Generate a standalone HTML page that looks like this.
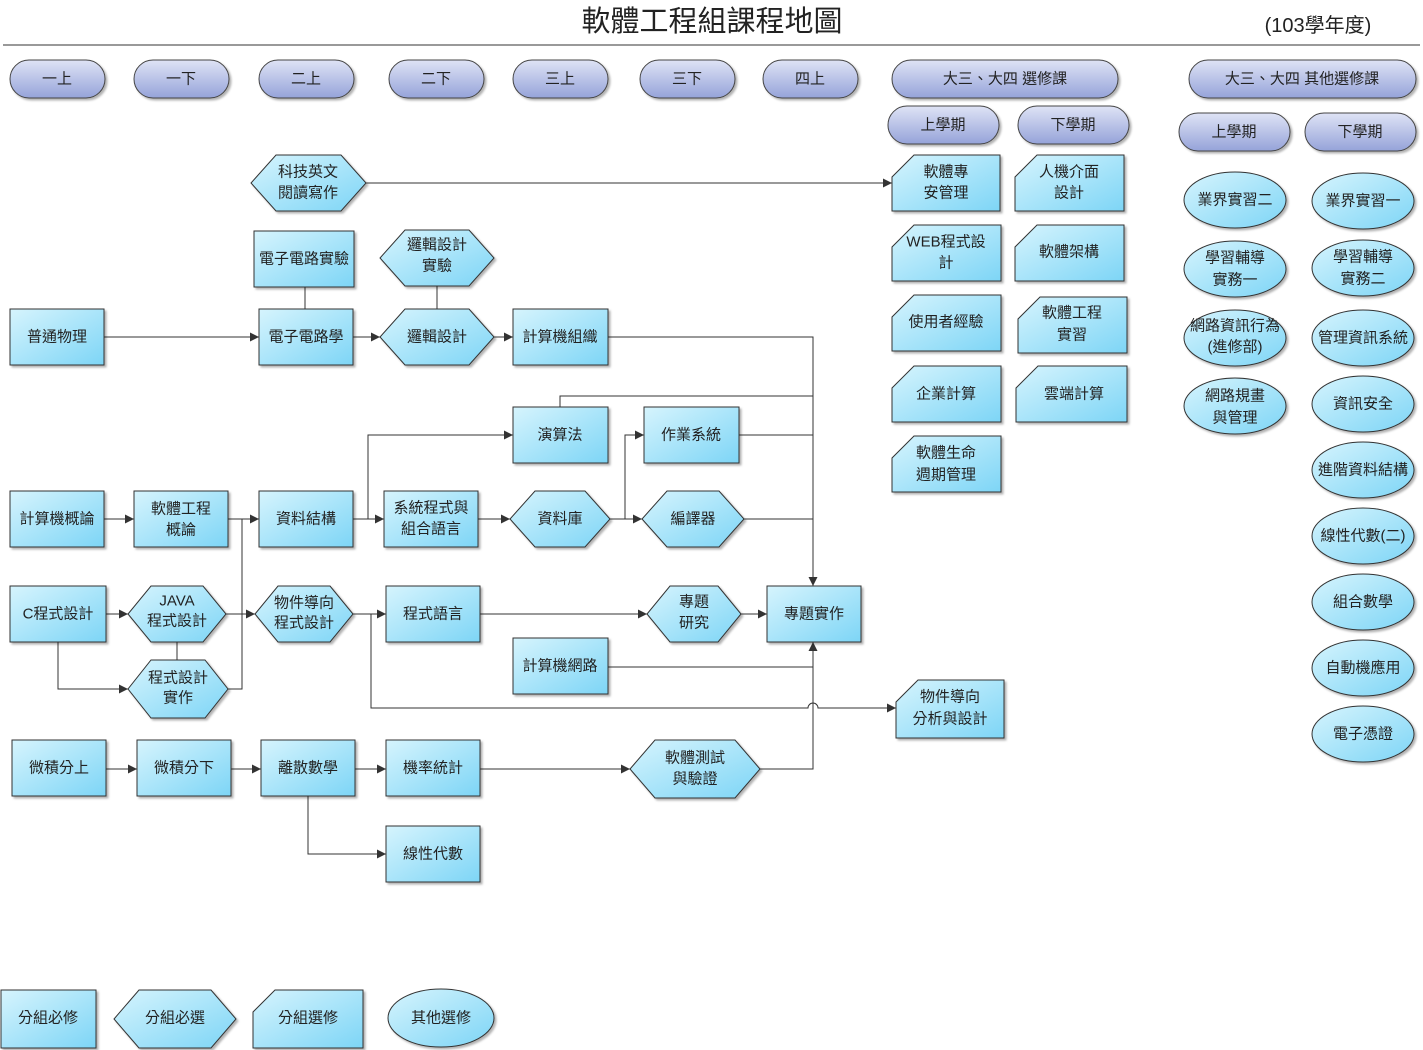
<!DOCTYPE html>
<html><head><meta charset="utf-8">
<style>
html,body{margin:0;padding:0;background:#fff;}
svg{display:block;}
text{font-family:"Liberation Sans","Noto Sans CJK TC",sans-serif;font-size:15px;fill:#222;text-anchor:middle;dominant-baseline:central;}
.n{fill:url(#g);stroke:#333;stroke-width:1;filter:url(#sh);}
.p{fill:url(#gp);stroke:#444;stroke-width:1;filter:url(#sh);}
.l{fill:none;stroke:#333;stroke-width:1;}
.a{fill:none;stroke:#333;stroke-width:1;marker-end:url(#ar);}
</style></head><body>
<svg width="1423" height="1050" viewBox="0 0 1423 1050" xmlns="http://www.w3.org/2000/svg">
<defs>
<linearGradient id="g" x1="0" y1="0" x2="1" y2="1"><stop offset="0" stop-color="#d6f4fd"/><stop offset="1" stop-color="#7dd5f6"/></linearGradient>
<linearGradient id="gp" x1="0" y1="0" x2="0" y2="1"><stop offset="0" stop-color="#dfe3f5"/><stop offset="1" stop-color="#95a3d9"/></linearGradient>
<filter id="sh" x="-10%" y="-10%" width="130%" height="130%"><feDropShadow dx="2" dy="2" stdDeviation="1" flood-color="#000" flood-opacity="0.3"/></filter>
<marker id="ar" viewBox="0 0 10 10" refX="10" refY="5" markerWidth="9" markerHeight="9" markerUnits="userSpaceOnUse" orient="auto"><path d="M0,0 L10,5 L0,10 z" fill="#333"/></marker>
</defs>

<text x="712" y="22" style="font-size:29px">軟體工程組課程地圖</text>
<text x="1318" y="26" style="font-size:20px">(103學年度)</text>
<line x1="3" y1="45" x2="1420" y2="45" stroke="#333"/>

<!-- header pills -->
<g>
<rect class="p" x="10" y="60" width="95" height="38" rx="19"/><text x="57" y="79">一上</text>
<rect class="p" x="134" y="60" width="95" height="38" rx="19"/><text x="181" y="79">一下</text>
<rect class="p" x="259" y="60" width="95" height="38" rx="19"/><text x="306" y="79">二上</text>
<rect class="p" x="389" y="60" width="95" height="38" rx="19"/><text x="436" y="79">二下</text>
<rect class="p" x="513" y="60" width="95" height="38" rx="19"/><text x="560" y="79">三上</text>
<rect class="p" x="640" y="60" width="95" height="38" rx="19"/><text x="687" y="79">三下</text>
<rect class="p" x="763" y="60" width="95" height="38" rx="19"/><text x="810" y="79">四上</text>
<rect class="p" x="892" y="60" width="226" height="38" rx="19"/><text x="1005" y="79">大三、大四 選修課</text>
<rect class="p" x="888" y="106" width="111" height="38" rx="19"/><text x="943" y="125">上學期</text>
<rect class="p" x="1018" y="106" width="111" height="38" rx="19"/><text x="1073" y="125">下學期</text>
<rect class="p" x="1189" y="60" width="227" height="38" rx="19"/><text x="1302" y="79">大三、大四 其他選修課</text>
<rect class="p" x="1179" y="113" width="111" height="38" rx="19"/><text x="1234" y="132">上學期</text>
<rect class="p" x="1305" y="113" width="111" height="38" rx="19"/><text x="1360" y="132">下學期</text>
</g>

<!-- connectors -->
<g>
<line class="a" x1="366" y1="183" x2="892" y2="183"/>
<line class="l" x1="305" y1="287" x2="305" y2="309"/>
<line class="l" x1="437" y1="286" x2="437" y2="309"/>
<line class="a" x1="104" y1="337" x2="259" y2="337"/>
<line class="a" x1="353" y1="337" x2="380" y2="337"/>
<line class="a" x1="494" y1="337" x2="513" y2="337"/>
<polyline class="a" points="608,337 813,337 813,586"/>
<polyline class="l" points="560,407 560,396 813,396"/>
<line class="l" x1="739" y1="435" x2="813" y2="435"/>
<line class="l" x1="744" y1="519" x2="813" y2="519"/>
<line class="a" x1="104" y1="519" x2="134" y2="519"/>
<line class="a" x1="228" y1="519" x2="259" y2="519"/>
<line class="a" x1="353" y1="519" x2="384" y2="519"/>
<polyline class="a" points="368,519 368,435 513,435"/>
<line class="a" x1="478" y1="519" x2="510" y2="519"/>
<line class="a" x1="610" y1="519" x2="642" y2="519"/>
<polyline class="a" points="625,519 625,435 644,435"/>
<line class="a" x1="106" y1="614" x2="128" y2="614"/>
<polyline class="a" points="58,642 58,689 128,689"/>
<line class="l" x1="177" y1="642" x2="177" y2="660"/>
<line class="a" x1="226" y1="614" x2="255" y2="614"/>
<polyline class="l" points="228,689 242,689 242,519"/>
<line class="a" x1="353" y1="614" x2="386" y2="614"/>
<path class="a" d="M371,614 L371,708 L808,708 A5,5 0 0 1 818,708 L896,708"/>
<line class="a" x1="480" y1="614" x2="647" y2="614"/>
<line class="a" x1="741" y1="614" x2="767" y2="614"/>
<polyline class="a" points="608,667 813,667 813,642"/>
<polyline class="l" points="760,769 813,769 813,667"/>
<line class="a" x1="106" y1="769" x2="137" y2="769"/>
<line class="a" x1="231" y1="769" x2="261" y2="769"/>
<line class="a" x1="355" y1="769" x2="386" y2="769"/>
<line class="a" x1="480" y1="769" x2="630" y2="769"/>
<polyline class="a" points="308,796 308,854 386,854"/>
</g>

<!-- rect nodes -->
<g>
<rect class="n" x="10" y="309" width="94" height="56"/><text x="57" y="337">普通物理</text>
<rect class="n" x="254" y="231" width="100" height="56"/><text x="304" y="259">電子電路實驗</text>
<rect class="n" x="259" y="309" width="94" height="56"/><text x="306" y="337">電子電路學</text>
<rect class="n" x="513" y="309" width="95" height="56"/><text x="560" y="337">計算機組織</text>
<rect class="n" x="513" y="407" width="95" height="56"/><text x="560" y="435">演算法</text>
<rect class="n" x="644" y="407" width="95" height="56"/><text x="691" y="435">作業系統</text>
<rect class="n" x="10" y="491" width="94" height="56"/><text x="57" y="519">計算機概論</text>
<rect class="n" x="134" y="491" width="94" height="56"/><text x="181" y="509">軟體工程</text><text x="181" y="530">概論</text>
<rect class="n" x="259" y="491" width="94" height="56"/><text x="306" y="519">資料結構</text>
<rect class="n" x="384" y="491" width="94" height="56"/><text x="431" y="508">系統程式與</text><text x="431" y="529">組合語言</text>
<rect class="n" x="10" y="586" width="96" height="56"/><text x="58" y="614">C程式設計</text>
<rect class="n" x="386" y="586" width="94" height="56"/><text x="433" y="614">程式語言</text>
<rect class="n" x="767" y="586" width="94" height="56"/><text x="814" y="614">專題實作</text>
<rect class="n" x="513" y="638" width="95" height="56"/><text x="560" y="666">計算機網路</text>
<rect class="n" x="12" y="740" width="94" height="56"/><text x="59" y="768">微積分上</text>
<rect class="n" x="137" y="740" width="94" height="56"/><text x="184" y="768">微積分下</text>
<rect class="n" x="261" y="740" width="94" height="56"/><text x="308" y="768">離散數學</text>
<rect class="n" x="386" y="740" width="94" height="56"/><text x="433" y="768">機率統計</text>
<rect class="n" x="386" y="826" width="94" height="56"/><text x="433" y="854">線性代數</text>
</g>

<!-- hexagons -->
<g>
<polygon class="n" points="276,155 341,155 366,183 341,211 276,211 251,183"/><text x="308" y="172">科技英文</text><text x="308" y="193">閱讀寫作</text>
<polygon class="n" points="405,230 469,230 494,258 469,286 405,286 380,258"/><text x="437" y="245">邏輯設計</text><text x="437" y="266">實驗</text>
<polygon class="n" points="405,309 469,309 494,337 469,365 405,365 380,337"/><text x="437" y="337">邏輯設計</text>
<polygon class="n" points="535,491 585,491 610,519 585,547 535,547 510,519"/><text x="560" y="519">資料庫</text>
<polygon class="n" points="667,491 719,491 744,519 719,547 667,547 642,519"/><text x="693" y="519">編譯器</text>
<polygon class="n" points="151,586 203,586 226,614 203,642 151,642 128,614"/><text x="177" y="601">JAVA</text><text x="177" y="621">程式設計</text>
<polygon class="n" points="278,586 330,586 353,614 330,642 278,642 255,614"/><text x="304" y="603">物件導向</text><text x="304" y="623">程式設計</text>
<polygon class="n" points="670,586 718,586 741,614 718,642 670,642 647,614"/><text x="694" y="602">專題</text><text x="694" y="623">研究</text>
<polygon class="n" points="151,660 205,660 228,689 205,718 151,718 128,689"/><text x="178" y="678">程式設計</text><text x="178" y="698">實作</text>
<polygon class="n" points="655,740 735,740 760,769 735,798 655,798 630,769"/><text x="695" y="758">軟體測試</text><text x="695" y="779">與驗證</text>
</g>

<!-- cut-corner boxes -->
<g>
<polygon class="n" points="914,155 1000,155 1000,211 892,211 892,177"/><text x="946" y="172">軟體專</text><text x="946" y="193">安管理</text>
<polygon class="n" points="1037,155 1124,155 1124,211 1015,211 1015,177"/><text x="1069" y="172">人機介面</text><text x="1069" y="193">設計</text>
<polygon class="n" points="914,225 1001,225 1001,281 892,281 892,247"/><text x="946" y="242">WEB程式設</text><text x="946" y="263">計</text>
<polygon class="n" points="1037,225 1124,225 1124,281 1015,281 1015,247"/><text x="1069" y="252">軟體架構</text>
<polygon class="n" points="914,295 1001,295 1001,351 892,351 892,317"/><text x="946" y="322">使用者經驗</text>
<polygon class="n" points="1040,297 1127,297 1127,353 1018,353 1018,319"/><text x="1072" y="313">軟體工程</text><text x="1072" y="335">實習</text>
<polygon class="n" points="914,366 1001,366 1001,422 892,422 892,388"/><text x="946" y="394">企業計算</text>
<polygon class="n" points="1038,366 1127,366 1127,422 1016,422 1016,388"/><text x="1074" y="394">雲端計算</text>
<polygon class="n" points="914,436 1001,436 1001,492 892,492 892,458"/><text x="946" y="453">軟體生命</text><text x="946" y="475">週期管理</text>
<polygon class="n" points="918,680 1004,680 1004,738 896,738 896,702"/><text x="950" y="697">物件導向</text><text x="950" y="719">分析與設計</text>
</g>

<!-- ellipses -->
<g>
<ellipse class="n" cx="1235" cy="200" rx="51" ry="28"/><text x="1235" y="200">業界實習二</text>
<ellipse class="n" cx="1363" cy="201" rx="51" ry="28"/><text x="1363" y="201">業界實習一</text>
<ellipse class="n" cx="1235" cy="269" rx="51" ry="28"/><text x="1235" y="258">學習輔導</text><text x="1235" y="280">實務一</text>
<ellipse class="n" cx="1363" cy="268" rx="51" ry="28"/><text x="1363" y="257">學習輔導</text><text x="1363" y="279">實務二</text>
<ellipse class="n" cx="1235" cy="338" rx="51" ry="28"/><text x="1235" y="326">網路資訊行為</text><text x="1235" y="347">(進修部)</text>
<ellipse class="n" cx="1363" cy="338" rx="51" ry="28"/><text x="1363" y="338">管理資訊系統</text>
<ellipse class="n" cx="1235" cy="406" rx="51" ry="28"/><text x="1235" y="396">網路規畫</text><text x="1235" y="418">與管理</text>
<ellipse class="n" cx="1363" cy="404" rx="51" ry="28"/><text x="1363" y="404">資訊安全</text>
<ellipse class="n" cx="1363" cy="470" rx="51" ry="28"/><text x="1363" y="470">進階資料結構</text>
<ellipse class="n" cx="1363" cy="536" rx="51" ry="28"/><text x="1363" y="536">線性代數(二)</text>
<ellipse class="n" cx="1363" cy="602" rx="51" ry="28"/><text x="1363" y="602">組合數學</text>
<ellipse class="n" cx="1363" cy="668" rx="51" ry="28"/><text x="1363" y="668">自動機應用</text>
<ellipse class="n" cx="1363" cy="734" rx="51" ry="28"/><text x="1363" y="734">電子憑證</text>
</g>

<!-- legend -->
<g>
<rect class="n" x="1" y="990" width="95" height="58"/><text x="48" y="1018">分組必修</text>
<polygon class="n" points="139,990 211,990 236,1019 211,1048 139,1048 114,1019"/><text x="175" y="1018">分組必選</text>
<polygon class="n" points="275,990 363,990 363,1048 253,1048 253,1012"/><text x="308" y="1018">分組選修</text>
<ellipse class="n" cx="441" cy="1018" rx="53" ry="29"/><text x="441" y="1018">其他選修</text>
</g>
</svg>
</body></html>
